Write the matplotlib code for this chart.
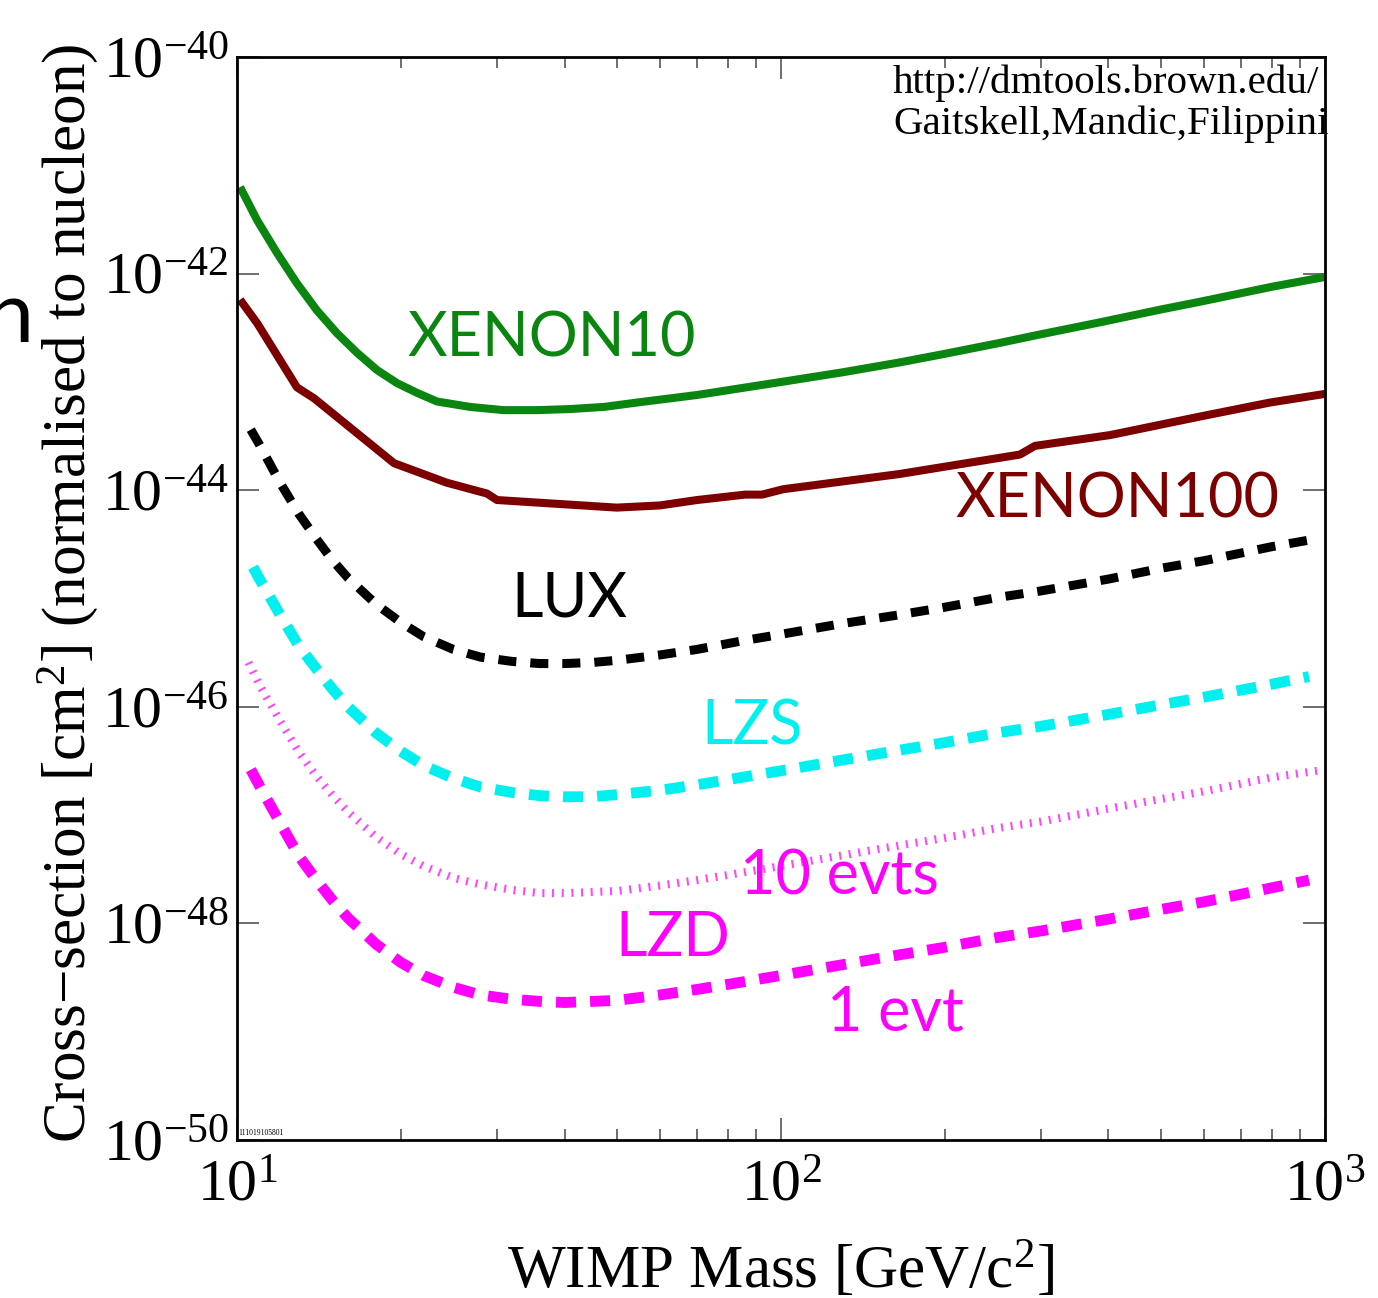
import numpy as np
import matplotlib
matplotlib.use("Agg")
import matplotlib.pyplot as plt

plt.rcParams['font.family'] = ['Liberation Serif', 'DejaVu Serif']
plt.rcParams['mathtext.fontset'] = 'custom'
plt.rcParams['mathtext.rm'] = 'Liberation Serif'
plt.rcParams['mathtext.it'] = 'Liberation Serif:italic'

# WIMP mass [GeV/c^2] and log10 cross-section [cm^2]
xenon10_m = [10.13, 10.9, 11.85, 12.89, 14.03, 15.27, 16.62, 18.09, 19.68, 21.42, 23.31, 26.8,
             30.9, 35.6, 40.9, 47.3, 54.3, 70.1, 100, 130, 165, 200, 252, 300, 385, 500, 588,
             800, 1000]
xenon10_s = [-41.20, -41.51, -41.81, -42.09, -42.34, -42.55, -42.73, -42.89, -43.01, -43.10,
             -43.18, -43.23, -43.26, -43.26, -43.25, -43.23, -43.19, -43.12, -43.00, -42.91,
             -42.82, -42.74, -42.64, -42.56, -42.45, -42.33, -42.26, -42.12, -42.03]

xenon100_m = [10.13, 10.9, 12.89, 13.85, 19.44, 24.3, 28.8, 30.06, 49.9, 59.9, 70.1, 85.9,
              92.3, 101, 165, 275, 293, 403, 588, 792, 1000]
xenon100_s = [-42.24, -42.46, -43.05, -43.15, -43.75, -43.93, -44.03, -44.09, -44.16, -44.14,
              -44.09, -44.04, -44.04, -43.99, -43.85, -43.67, -43.59, -43.49, -43.32, -43.19,
              -43.11]

lux_m = [10.6, 11, 12, 13, 14, 15, 16, 18, 20, 22, 25, 28, 32, 36, 40, 45, 50, 60, 70, 85,
         100, 130, 165, 200, 250, 300, 400, 500, 600, 800, 935]
lux_s = [-43.44, -43.58, -43.93, -44.22, -44.45, -44.65, -44.81, -45.05, -45.22, -45.35,
         -45.47, -45.54, -45.58, -45.60, -45.60, -45.59, -45.57, -45.52, -45.47, -45.39,
         -45.33, -45.23, -45.15, -45.08, -44.99, -44.93, -44.82, -44.72, -44.65, -44.52,
         -44.46]

lzs_m = [10.7, 11, 12, 13, 14, 15, 16, 18, 20, 22, 25, 28, 32, 36, 40, 45, 50, 60, 70, 85,
         100, 130, 165, 200, 250, 300, 400, 500, 600, 800, 935]
lzs_s = [-44.71, -44.82, -45.15, -45.44, -45.65, -45.84, -46.00, -46.24, -46.41, -46.54,
         -46.66, -46.74, -46.79, -46.82, -46.83, -46.83, -46.81, -46.77, -46.72, -46.65,
         -46.59, -46.49, -46.40, -46.33, -46.24, -46.18, -46.07, -45.98, -45.91, -45.79,
         -45.72]

evt10_m = [10.5, 11, 12, 13, 14, 15, 16, 18, 20, 22, 25, 28, 32, 36, 40, 45, 50, 60, 70, 85,
           100, 130, 165, 200, 250, 300, 400, 500, 600, 800, 1000]
evt10_s = [-45.59, -45.80, -46.13, -46.42, -46.64, -46.82, -46.97, -47.20, -47.36, -47.47,
           -47.58, -47.64, -47.69, -47.72, -47.72, -47.71, -47.70, -47.65, -47.60, -47.53,
           -47.47, -47.37, -47.28, -47.21, -47.12, -47.06, -46.94, -46.85, -46.78, -46.65,
           -46.58]

lzd_m = [10.6, 11, 12, 13, 14, 15, 16, 18, 20, 22, 25, 28, 32, 36, 40, 45, 50, 60, 70, 85,
         100, 130, 165, 200, 250, 300, 400, 500, 600, 800, 935]
lzd_s = [-46.58, -46.73, -47.07, -47.38, -47.60, -47.79, -47.95, -48.19, -48.36, -48.48,
         -48.59, -48.66, -48.70, -48.72, -48.73, -48.72, -48.71, -48.66, -48.61, -48.54,
         -48.48, -48.38, -48.29, -48.22, -48.13, -48.07, -47.96, -47.87, -47.80, -47.67,
         -47.60]

fig = plt.figure(figsize=(13.78, 12.98), dpi=100)
ax = fig.add_axes([0.172, 0.1217, 0.7895, 0.8343])

def sig(s):
    return 10.0 ** np.array(s)

ax.plot(xenon10_m, sig(xenon10_s), color='#0a850f', lw=5.8, solid_capstyle='butt')
ax.plot(xenon100_m, sig(xenon100_s), color='#7d0000', lw=5.8, solid_capstyle='butt')
ax.plot(lux_m, sig(lux_s), color='black', lw=6.5, ls=(0, (2.0, 1.55)))
ax.plot(lzs_m, sig(lzs_s), color='#00f0f0', lw=7.8, ls=(0, (1.85, 1.3)))
ax.plot(evt10_m, sig(evt10_s), color='#ff44ff', lw=5.8, ls=(0, (0.25, 0.95)))
ax.plot(lzd_m, sig(lzd_s), color='#ff00ff', lw=7.8, ls=(0, (1.85, 1.3)))

lab = dict(family=['Lato', 'DejaVu Sans'], ha='center', va='center', fontsize=44)
ax.text(37.9, 10**-42.6, 'XENON10', color='#0a850f', **lab)
ax.text(415, 10**-44.09, 'XENON100', color='#7d0000', **lab)
ax.text(40.9, 10**-45.0, 'LUX', color='black', **lab)
ax.text(88.5, 10**-46.19, 'LZS', color='#00f0f0', **lab)
ax.text(128, 10**-47.57, '10 evts', color='#ff00ff', **lab)
ax.text(63.3, 10**-48.14, 'LZD', color='#ff00ff', **lab)
ax.text(162, 10**-48.83, '1 evt', color='#ff00ff', **lab)

ax.text(0.603, 0.993, 'http://dmtools.brown.edu/\nGaitskell,Mandic,Filippini',
        transform=ax.transAxes, ha='left', va='top', fontsize=29.5, linespacing=1.12)
ax.text(0.001, 0.003, '111019105801', transform=ax.transAxes, fontsize=5.5, ha='left', va='bottom')

ax.set_xscale('log')
ax.set_yscale('log')
ax.set_xlim(10, 1000)
ax.set_ylim(1e-50, 1e-40)

ax.set_yticks([10.0**k for k in range(-50, -39, 2)])
ax.set_yticklabels([r'$10^{%d}$' % k for k in range(-50, -39, 2)])
ax.yaxis.set_minor_locator(matplotlib.ticker.NullLocator())
ax.set_xticks([10, 100, 1000])
ax.set_xticklabels([r'$10^{1}$', r'$10^{2}$', r'$10^{3}$'])

ax.tick_params(which='both', direction='in', top=True, right=True, labelsize=43, color='#555555')
ax.tick_params(which='major', length=16, width=1.2)
ax.tick_params(which='minor', length=8, width=1.2)
ax.tick_params(axis='x', pad=14)
ax.tick_params(axis='y', pad=6)
for sp in ax.spines.values():
    sp.set_linewidth(2)

ax.set_xlabel(r'WIMP Mass [GeV/c$^{2}$]', fontsize=44, labelpad=20)
ax.set_ylabel(r'Cross$-$section [cm$^{2}$] (normalised to nucleon)', fontsize=44)
ax.yaxis.set_label_coords(-0.126, 0.505)

fig.text(34 / 1378, 1 - 318 / 1298, 'n', family=['Lato', 'DejaVu Sans'], fontsize=62,
         ha='right', va='center')

fig.savefig('out.png', dpi=100)
